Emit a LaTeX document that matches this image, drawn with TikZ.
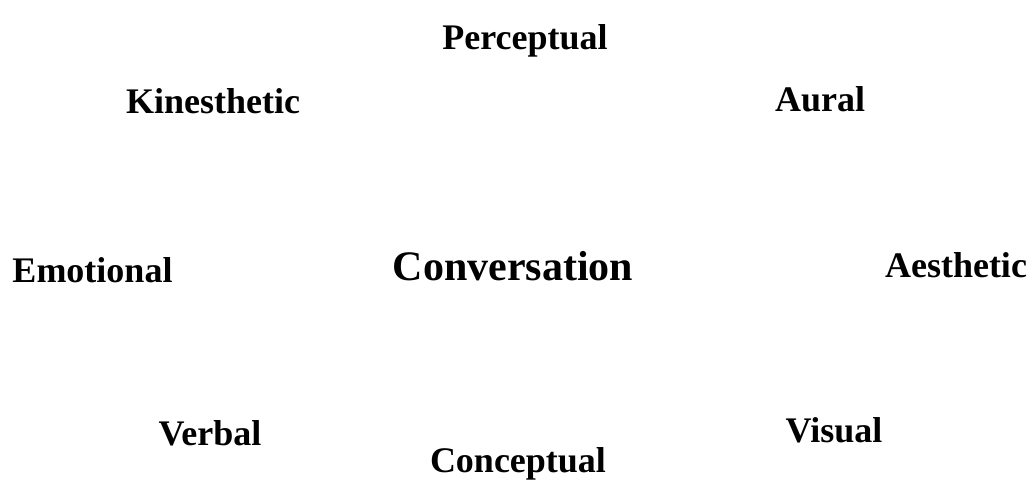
\documentclass[tikz,border=0pt]{standalone}
\usepackage{fontspec}
\setmainfont{Liberation Serif}
\tikzset{
  lbl/.style={anchor=base, inner sep=0pt, font=\bfseries\fontsize{36}{40}\selectfont},
  big/.style={anchor=base, inner sep=0pt, font=\bfseries\fontsize{42}{46}\selectfont}
}
\begin{document}
\begin{tikzpicture}[x=1pt,y=-1pt]
\useasboundingbox (0,0) rectangle (1035,479);
\node[lbl] (perc) at (525,49) {Perceptual};
\node[lbl] (kin) at (213,113) {Kinesthetic};
\node[lbl] (aur) at (820,111) {Aural};
\node[lbl] (emo) at (92.5,282) {Emotional};
\node[big] (conv) at (513,280) {Conversation};
\node[lbl] (aes) at (956,277) {Aesthetic};
\node[lbl] (verb) at (210,445) {Verbal};
\node[lbl] (vis) at (834,442) {Visual};
\node[lbl] (conc) at (518,472) {Conceptual};
\end{tikzpicture}
\end{document}
